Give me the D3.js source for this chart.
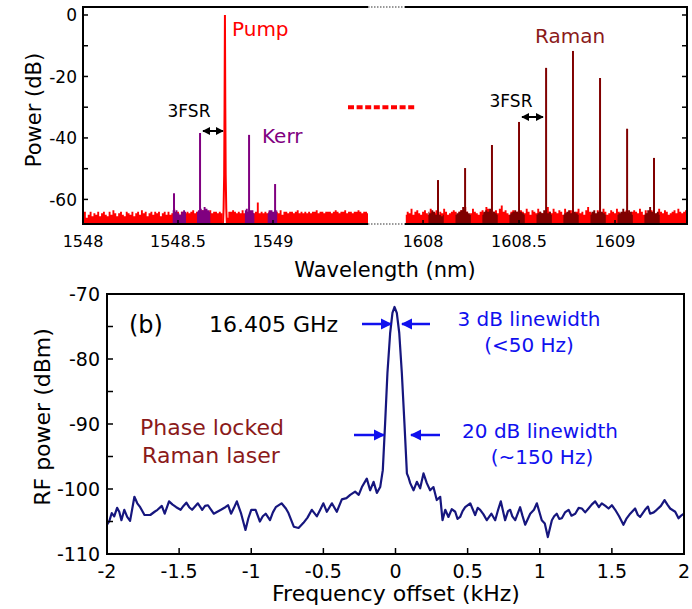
<!DOCTYPE html>
<html>
<head>
<meta charset="utf-8">
<script src="https://cdn.jsdelivr.net/npm/d3@7"></script>
<style>
  body { margin: 0; background: #fff; }
  svg { display: block; font-family: "DejaVu Sans", sans-serif; }
</style>
</head>
<body>
<div id="chart"></div>
<script>
var width = 692;
var height = 609;

// ---- panel (a): optical spectrum ----
var leftStart = 1548.00;   // noise grid, 0.01 nm step
var leftNoise = [
  -65, -64, -66, -65, -64, -65.5, -64.5, -65, -64, -65.5,
  -64.5, -64, -65, -65.5, -64, -65, -63.5, -64.5, -65.5, -64.5,
  -64, -65, -65.5, -64, -64.5, -65, -64, -65.5, -64.5, -64,
  -65, -63.5, -64.5, -64, -65.5, -64.5, -64, -65, -64, -64.5,
  -64, -65.5, -64.5, -64, -65, -64, -65, -64.5, -63, -64.5,
  -64, -65, -64, -65, -64.5, -64, -64.5, -64, -63.5, -64.5,
  -64, -64.5, -64, -63.5, -64, -64.5, -64, -63.5, -64.5, -64,
  -64, -64.5, -64, -64.5, -68, -68, -66, -64, -64, -63.5,
  -64, -64.5, -64, -64.5, -63.5, -64.5, -64, -64.5, -65, -64,
  -64.5, -64, -61, -64.5, -64, -64.5, -64, -64.5, -64, -64.5,
  -64.5, -64, -64, -64.5, -63.5, -65, -64, -64, -64.5, -64,
  -64, -64.5, -64, -63.5, -64.5, -64, -64.5, -64, -64.5, -64,
  -64.5, -64, -64, -63.5, -64.5, -64, -64, -64.5, -64, -64,
  -64, -64.5, -64, -63.5, -64, -64.5, -64, -64, -63.5, -64.5,
  -64, -64, -64.5, -64, -64, -63.5, -64, -64.5, -64, -64,
  -64.5
];
var rightStart = 1607.91;
var rightNoise = [
  -65, -64, -64.5, -63, -65, -64, -63.5, -64.5, -65,
  -64, -63.5, -64.5, -65, -63, -64, -64.5, -63.5, -65, -64,
  -64.5, -63, -64, -65, -64.5, -64, -63.5, -64, -65, -64,
  -63.5, -64.5, -62.5, -64, -65, -64.5, -63, -64, -64.5, -65,
  -64, -63.5, -64.5, -62.5, -63, -64, -65, -64, -63.5, -64.5,
  -63, -62, -64, -63.5, -64.5, -65, -64, -63.5, -64.5, -64,
  -65, -63.5, -64, -64.5, -63, -64, -65, -63.5, -64, -64.5,
  -63, -64, -64.5, -65, -63.5, -62.5, -64, -64.5, -63, -64,
  -64.5, -63.5, -64, -65, -63, -64.5, -64, -63.5, -64.5, -65,
  -64, -63, -64.5, -64, -65, -63.5, -62.5, -64, -64.5, -64,
  -65, -63.5, -64, -64.5, -63, -64, -65, -64.5, -63.5, -64,
  -64.5, -63, -64, -65, -64.5, -64, -63.5, -64.5, -65, -64,
  -63.5, -64, -64.5, -63, -64, -65, -63.5, -64.5, -64, -63.5,
  -64, -65, -64.5, -63, -64, -64.5, -63.5, -64, -65, -64.5,
  -64, -63.5, -64.5, -63, -64, -64.5, -64, -63.5
];

var pumpWl = [1548.737, 1548.740, 1548.743, 1548.745, 1548.747, 1548.749, 1548.751, 1548.754, 1548.757];
var pumpDb = [-68, -63, -52, -30, 0, -30, -52, -63, -68];

var kerrWl = [1548.479, 1548.616, 1548.874, 1549.011];
var kerrDb = [-58, -38.4, -39, -55];
var kerrBaseStart = [1548.472, 1548.60, 1548.852, 1548.972];
var kerrBase = [
  [-63.5, -64, -63.5, -64.5, -65, -64, -63.5, -64],
  [-64, -63.5, -63, -63.5, -62.5, -63, -63.5, -64],
  [-63.5, -63, -64, -63.5, -63.5, -64.5],
  [-64.5, -63.5, -63.5, -64, -64, -63.5]
];

var ramanWl = [1608.078, 1608.219, 1608.359, 1608.500, 1608.641, 1608.781, 1608.922, 1609.063, 1609.203];
var ramanDb = [-53.7, -49.8, -42.3, -34.8, -17.2, -11.7, -20.5, -37, -46.5];
var ramanBase = [
  [-64, -64.5, -63.5, -64, -65, -64.5, -65, -65.5, -65],
  [-65, -64.5, -64, -63.5, -62.5, -63, -64, -64.5, -65],
  [-65, -64, -63.5, -64, -63, -64.5, -64, -64.5, -65],
  [-65, -64.5, -64, -63.5, -64, -64.5, -64, -64.5, -65],
  [-65, -64.5, -64, -64.5, -63.5, -64, -64.5, -64, -65],
  [-65, -64.5, -64, -63.5, -64.5, -63.5, -64, -64.5, -65],
  [-65, -64, -63.5, -64.5, -64, -64.5, -64, -64.5, -65],
  [-65, -64.5, -64, -63, -64, -64.5, -63.5, -64, -65],
  [-65, -64.5, -63.5, -62.5, -64, -63.5, -64.5, -64, -65]
];

var xTicksLeft = [1548, 1548.5, 1549];
var xTicksRight = [1608, 1608.5, 1609];
var yTicksTop = [0, -20, -40, -60];

// ---- panel (b): RF beat note ----
var rfFreq = [-2.0, -1.985, -1.967, -1.95, -1.93, -1.915, -1.9, -1.88, -1.86, -1.84,
  -1.81, -1.79, -1.77, -1.74, -1.70, -1.67, -1.65, -1.62, -1.60, -1.57,
  -1.545, -1.52, -1.49, -1.47, -1.45, -1.43, -1.41, -1.37, -1.34, -1.32,
  -1.30, -1.26, -1.21, -1.18, -1.16, -1.14, -1.12, -1.10, -1.07, -1.04,
  -1.02, -1.00, -0.97, -0.94, -0.92, -0.90, -0.87, -0.85, -0.83, -0.79,
  -0.76, -0.742, -0.705, -0.672, -0.638, -0.61, -0.58, -0.545, -0.52, -0.50,
  -0.476, -0.441, -0.407, -0.372, -0.34, -0.314, -0.28, -0.255, -0.233, -0.199,
  -0.176, -0.152, -0.129, -0.106, -0.088, -0.072, -0.056, -0.037, -0.021, -0.007,
  0.009, 0.026, 0.044, 0.062, 0.079, 0.09, 0.102, 0.125, 0.148, 0.171,
  0.194, 0.217, 0.24, 0.263, 0.286, 0.31, 0.326, 0.345, 0.367, 0.39,
  0.414, 0.43, 0.448, 0.465, 0.483, 0.518, 0.552, 0.57, 0.587, 0.61,
  0.633, 0.665, 0.691, 0.71, 0.730, 0.76, 0.78, 0.795, 0.81, 0.83,
  0.864, 0.88, 0.899, 0.934, 0.96, 0.98, 1.014, 1.035, 1.056, 1.084,
  1.1, 1.118, 1.135, 1.153, 1.175, 1.2, 1.22, 1.246, 1.27, 1.292,
  1.315, 1.338, 1.36, 1.384, 1.41, 1.43, 1.455, 1.477, 1.5, 1.523,
  1.55, 1.58, 1.6, 1.627, 1.661, 1.68, 1.696, 1.73, 1.75, 1.765,
  1.79, 1.811, 1.84, 1.865, 1.885, 1.904, 1.939, 1.962, 1.98, 2.0];
var rfPower = [-105.5, -105, -103.7, -104.2, -102.9, -103.5, -104.8, -103.2, -104.3, -104.9,
  -101.2, -102.2, -102.8, -104, -104, -103.5, -103.2, -102.6, -103.8, -101.9,
  -102.4, -102.8, -103.2, -102.6, -102.1, -102.8, -103.2, -102.2, -103.2, -102.6,
  -102.5, -103.8, -103.2, -102.8, -102.5, -103.8, -102.9, -101.9, -103.8, -106.3,
  -104.5, -103.2, -103.2, -105, -104.2, -103.8, -104.8, -103.6, -102.8, -102.2,
  -103, -103.7, -105.8, -106, -105.2, -104.4, -103.2, -104.2, -103.1, -102.2,
  -103.5, -102.2, -103.5, -101.6, -101.4, -100.9, -100.4, -100.9, -99.7, -98.4,
  -100.2, -98.9, -100.6, -99.7, -97.1, -89.9, -82.2, -76, -72.9, -72,
  -72.9, -76, -82.2, -89.9, -97.6, -98.2, -99.1, -100.2, -98.9, -99.9,
  -97.6, -99.1, -100.2, -99.7, -101.7, -101.2, -104.8, -103.2, -104.3, -103.1,
  -103.5, -104.6, -104.3, -103.4, -102.8, -102.2, -104, -102.9, -103.2, -103.9,
  -104.8, -103.8, -104.8, -103.3, -101.9, -104.8, -103.4, -103.2, -104.2, -104.8,
  -102.8, -104.1, -105.5, -103.8, -103.2, -102.2, -104.8, -105.3, -107.4, -104.8,
  -104.2, -103.8, -104.6, -104.5, -103.6, -103.2, -104.1, -103.8, -102.9, -103,
  -103.6, -103, -102.4, -101.9, -102.8, -102.2, -102.6, -103, -102.5, -103.2,
  -104.2, -105.5, -104.6, -103.8, -103, -104, -104.3, -103.2, -102.7, -103.8,
  -103.6, -103.2, -102.6, -101.7, -102.4, -103, -103.5, -104.5, -104.1, -103.8];

var xTicksRf = [-2, -1.5, -1, -0.5, 0, 0.5, 1, 1.5, 2];
var yTicksRf = [-70, -80, -90, -100, -110];

var RED = "#ff0000", PURPLE = "#800080", DARKRED = "#800000", NAVY = "#16167e", BLUE = "#1010ee";

function grid(start, values) {
  return values.map(function(v, i) { return { wl: start + i * 0.01, v: v }; });
}

function createSVG() {
  var svg = d3.select("#chart").append("svg")
    .attr("width", width).attr("height", height);
  var defs = svg.append("defs");
  defs.append("marker").attr("id", "headBlack")
    .attr("viewBox", "0 0 10 10").attr("refX", 9).attr("refY", 5)
    .attr("markerWidth", 4).attr("markerHeight", 4).attr("orient", "auto-start-reverse")
    .append("path").attr("d", "M0,0L10,5L0,10z").attr("fill", "#000");
  defs.append("marker").attr("id", "headBlue")
    .attr("viewBox", "0 0 10 10").attr("refX", 9).attr("refY", 5)
    .attr("markerWidth", 4.5).attr("markerHeight", 4.5).attr("orient", "auto")
    .append("path").attr("d", "M0,0L10,5L0,10z").attr("fill", BLUE);
  return svg;
}

function drawSpectrum(svg) {
  var T = { left: 83, right: 687, top: 7, bottom: 224, breakL: 368, breakR: 405 };
  var xL = d3.scaleLinear().domain([1548, 1549.5]).range([T.left, T.breakL]);
  var xR = d3.scaleLinear().domain([1607.906, 1609.375]).range([T.breakR, T.right]);
  var y = d3.scaleLinear().domain([-68, 2.6]).range([T.bottom, T.top]);

  var defs = svg.select("defs");
  defs.append("clipPath").attr("id", "clipL").append("rect")
    .attr("x", T.left).attr("y", T.top).attr("width", T.breakL - T.left).attr("height", T.bottom - T.top);
  defs.append("clipPath").attr("id", "clipR").append("rect")
    .attr("x", T.breakR).attr("y", T.top).attr("width", T.right - T.breakR).attr("height", T.bottom - T.top);

  function area(x) {
    return d3.area().x(function(d) { return x(d.wl); })
      .y0(y(-68)).y1(function(d) { return y(d.v); }).curve(d3.curveStep);
  }

  var gL = svg.append("g").attr("clip-path", "url(#clipL)");
  var gR = svg.append("g").attr("clip-path", "url(#clipR)");

  // noise floor
  gL.append("path").datum(grid(leftStart, leftNoise)).attr("d", area(xL)).attr("fill", RED);
  gR.append("path").datum(grid(rightStart, rightNoise)).attr("d", area(xR)).attr("fill", RED);

  // Kerr bases + lines
  kerrBase.forEach(function(vals, i) {
    gL.append("path").datum(grid(kerrBaseStart[i], vals)).attr("d", area(xL)).attr("fill", PURPLE);
  });
  gL.selectAll(".kerr").data(kerrWl).enter().append("line")
    .attr("x1", function(d) { return xL(d); }).attr("x2", function(d) { return xL(d); })
    .attr("y1", y(-66)).attr("y2", function(d, i) { return y(kerrDb[i]); })
    .attr("stroke", PURPLE).attr("stroke-width", 2);

  // pump
  gL.append("path").datum(d3.zip(pumpWl, pumpDb))
    .attr("d", d3.line().x(function(d) { return xL(d[0]); }).y(function(d) { return y(d[1]); }))
    .attr("fill", "none").attr("stroke", RED).attr("stroke-width", 2);

  // Raman bases + lines
  ramanBase.forEach(function(vals, i) {
    gR.append("path").datum(grid(ramanWl[i] - 0.05, vals)).attr("d", area(xR)).attr("fill", DARKRED);
  });
  gR.selectAll(".raman").data(ramanWl).enter().append("line")
    .attr("x1", function(d) { return xR(d); }).attr("x2", function(d) { return xR(d); })
    .attr("y1", y(-66)).attr("y2", function(d, i) { return y(ramanDb[i]); })
    .attr("stroke", DARKRED).attr("stroke-width", 2);

  // frame with axis break
  var frame = svg.append("g").attr("stroke", "#000").attr("stroke-width", 2).attr("fill", "none");
  frame.append("path").attr("d",
    "M" + T.breakL + "," + T.top + "H" + T.left + "V" + T.bottom + "H" + T.breakL);
  frame.append("path").attr("d",
    "M" + T.breakR + "," + T.top + "H" + T.right + "V" + T.bottom + "H" + T.breakR);
  [T.top, T.bottom].forEach(function(yy) {
    svg.append("line").attr("x1", T.breakL).attr("x2", T.breakR).attr("y1", yy).attr("y2", yy)
      .attr("stroke", "#777").attr("stroke-width", 1.5).attr("stroke-dasharray", "1.5,1.5");
  });

  // ticks
  var ticks = svg.append("g").attr("stroke", "#000").attr("stroke-width", 1.5);
  d3.range(-60, 1, 10).forEach(function(v) {
    ticks.append("line").attr("x1", T.left).attr("x2", T.left + 5).attr("y1", y(v)).attr("y2", y(v));
    ticks.append("line").attr("x1", T.right).attr("x2", T.right - 5).attr("y1", y(v)).attr("y2", y(v));
  });
  xTicksLeft.forEach(function(v) {
    ticks.append("line").attr("x1", xL(v)).attr("x2", xL(v)).attr("y1", T.bottom).attr("y2", T.bottom - 4);
  });
  xTicksRight.forEach(function(v) {
    ticks.append("line").attr("x1", xR(v)).attr("x2", xR(v)).attr("y1", T.bottom).attr("y2", T.bottom - 4);
  });

  // tick labels
  svg.selectAll(".ytl").data(yTicksTop).enter().append("text")
    .attr("x", 77).attr("y", function(d) { return y(d); }).attr("dy", "0.36em")
    .attr("text-anchor", "end").attr("font-size", 17).text(function(d) { return d; });
  svg.selectAll(".xtl").data(xTicksLeft).enter().append("text")
    .attr("x", function(d) { return xL(d); }).attr("y", 247)
    .attr("text-anchor", "middle").attr("font-size", 16).text(function(d) { return d; });
  svg.selectAll(".xtr").data(xTicksRight).enter().append("text")
    .attr("x", function(d) { return xR(d); }).attr("y", 247)
    .attr("text-anchor", "middle").attr("font-size", 16).text(function(d) { return d; });

  svg.append("text").attr("x", 385).attr("y", 277).attr("text-anchor", "middle")
    .attr("font-size", 21).text("Wavelength (nm)");
  svg.append("text").attr("transform", "translate(41,110) rotate(-90)").attr("text-anchor", "middle")
    .attr("font-size", 21).text("Power (dB)");

  // break marker in the middle
  svg.append("line").attr("x1", 348).attr("x2", 416).attr("y1", y(-30)).attr("y2", y(-30))
    .attr("stroke", RED).attr("stroke-width", 4).attr("stroke-dasharray", "6,2.6");

  // annotations
  svg.append("text").attr("x", 232).attr("y", 36).attr("font-size", 20).attr("fill", RED).text("Pump");
  svg.append("text").attr("x", 262).attr("y", 143).attr("font-size", 20).attr("fill", PURPLE).text("Kerr");
  svg.append("text").attr("x", 535).attr("y", 43).attr("font-size", 20).attr("fill", "#8b1a1a").text("Raman");
  svg.append("text").attr("x", 189).attr("y", 117).attr("text-anchor", "middle").attr("font-size", 17).text("3FSR");
  svg.append("text").attr("x", 511).attr("y", 107).attr("text-anchor", "middle").attr("font-size", 17).text("3FSR");
  [[203, 223, 131], [522, 543, 117]].forEach(function(a) {
    svg.append("line").attr("x1", a[0]).attr("x2", a[1]).attr("y1", a[2]).attr("y2", a[2])
      .attr("stroke", "#000").attr("stroke-width", 2)
      .attr("marker-start", "url(#headBlack)").attr("marker-end", "url(#headBlack)");
  });
}

function drawBeatNote(svg) {
  var B = { left: 107, right: 684, top: 294, bottom: 554 };
  var x = d3.scaleLinear().domain([-2, 2]).range([B.left, B.right]);
  var y = d3.scaleLinear().domain([-110, -70]).range([B.bottom, B.top]);

  svg.append("path").datum(d3.zip(rfFreq, rfPower))
    .attr("d", d3.line().x(function(d) { return x(d[0]); }).y(function(d) { return y(d[1]); }))
    .attr("fill", "none").attr("stroke", NAVY).attr("stroke-width", 2.2).attr("stroke-linejoin", "round");

  svg.append("rect").attr("x", B.left).attr("y", B.top)
    .attr("width", B.right - B.left).attr("height", B.bottom - B.top)
    .attr("fill", "none").attr("stroke", "#000").attr("stroke-width", 2);

  var ticks = svg.append("g").attr("stroke", "#000").attr("stroke-width", 1.5);
  d3.range(-105, -70, 5).forEach(function(v) {
    ticks.append("line").attr("x1", B.left).attr("x2", B.left + 6).attr("y1", y(v)).attr("y2", y(v));
  });
  xTicksRf.slice(1, -1).forEach(function(v) {
    ticks.append("line").attr("x1", x(v)).attr("x2", x(v)).attr("y1", B.bottom).attr("y2", B.bottom - 6);
  });

  svg.selectAll(".rfy").data(yTicksRf).enter().append("text")
    .attr("x", 100).attr("y", function(d) { return y(d); }).attr("dy", "0.36em")
    .attr("text-anchor", "end").attr("font-size", 19).text(function(d) { return d; });
  svg.selectAll(".rfx").data(xTicksRf).enter().append("text")
    .attr("x", function(d) { return x(d); }).attr("y", 578)
    .attr("text-anchor", "middle").attr("font-size", 19).text(function(d) { return d; });

  svg.append("text").attr("x", 396).attr("y", 601).attr("text-anchor", "middle")
    .attr("font-size", 22).text("Frequency offset (kHz)");
  svg.append("text").attr("transform", "translate(50,417) rotate(-90)").attr("text-anchor", "middle")
    .attr("font-size", 22).text("RF power (dBm)");

  svg.append("text").attr("x", 129).attr("y", 333).attr("font-size", 24).text("(b)");
  svg.append("text").attr("x", 209).attr("y", 332).attr("font-size", 22).text("16.405 GHz");

  var rl = svg.append("g").attr("fill", "#8b1a1a").attr("font-size", 22).attr("text-anchor", "middle");
  rl.append("text").attr("x", 212).attr("y", 435).text("Phase locked");
  rl.append("text").attr("x", 211).attr("y", 463).text("Raman laser");

  var bl = svg.append("g").attr("fill", BLUE).attr("font-size", 20).attr("text-anchor", "middle");
  bl.append("text").attr("x", 529).attr("y", 326).text("3 dB linewidth");
  bl.append("text").attr("x", 529).attr("y", 352).text("(<50 Hz)");
  bl.append("text").attr("x", 540).attr("y", 438).text("20 dB linewidth");
  bl.append("text").attr("x", 542).attr("y", 464).text("(~150 Hz)");

  [[362, 391, 324], [430, 402, 324], [354, 384, 435], [440, 411, 435]].forEach(function(a) {
    svg.append("line").attr("x1", a[0]).attr("x2", a[1]).attr("y1", a[2]).attr("y2", a[2])
      .attr("stroke", BLUE).attr("stroke-width", 2.5).attr("marker-end", "url(#headBlue)");
  });
}

window.onload = function() {
  var svg = createSVG();
  drawSpectrum(svg);
  drawBeatNote(svg);
};
</script>
</body>
</html>
